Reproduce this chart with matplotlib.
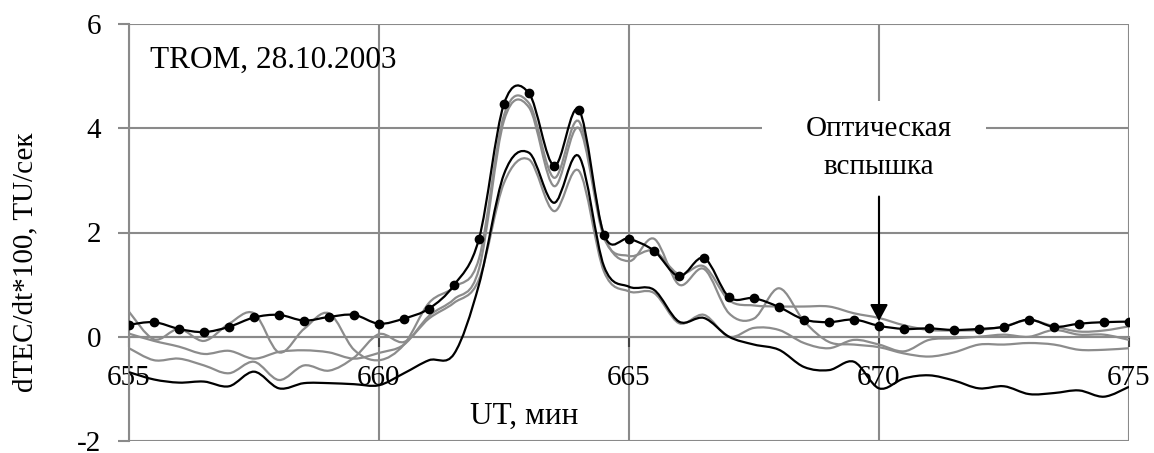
import numpy as np
import matplotlib.pyplot as plt
from matplotlib.path import Path
from matplotlib.patches import PathPatch, Rectangle

plt.rcParams['font.family'] = ['Liberation Serif', 'DejaVu Serif']
plt.rcParams['axes.unicode_minus'] = False

# UT, minutes (30 s step)
ut = np.linspace(655, 675, 41)

# dTEC/dt*100 for the station with markers
trom_main = [0.23, 0.28, 0.15, 0.09, 0.19, 0.37, 0.42, 0.31, 0.38, 0.42,
             0.25, 0.35, 0.54, 0.99, 1.88, 4.47, 4.67, 3.28, 4.35, 1.96,
             1.88, 1.65, 1.16, 1.51, 0.76, 0.74, 0.57, 0.33, 0.28, 0.33,
             0.21, 0.15, 0.16, 0.13, 0.15, 0.19, 0.33, 0.19, 0.25, 0.28,
             0.29]

# second black curve (no markers)
trom_low = [-0.68, -0.82, -0.88, -0.86, -0.95, -0.67, -0.99, -0.89, -0.89, -0.91,
            -0.93, -0.70, -0.45, -0.33, 1.00, 3.12, 3.53, 2.57, 3.46, 1.35,
            0.96, 0.90, 0.29, 0.36, 0.00, -0.15, -0.25, -0.58, -0.64, -0.48,
            -0.99, -0.80, -0.74, -0.84, -0.99, -0.95, -1.10, -1.08, -1.03, -1.15,
            -0.96]

# gray curves
gray_1 = [0.48, -0.05, 0.15, -0.08, 0.25, 0.45, -0.30, 0.15, 0.45, -0.25,
          -0.45, -0.15, 0.65, 0.95, 1.50, 4.25, 4.48, 3.05, 4.13, 1.95,
          1.45, 1.88, 1.00, 1.30, 0.45, 0.35, 0.93, 0.30, -0.10, -0.15,
          -0.20, -0.32, -0.38, -0.30, -0.15, -0.15, -0.12, -0.15, -0.25, -0.25,
          -0.22]
gray_2 = [0.06, -0.08, -0.19, -0.33, -0.27, -0.42, -0.29, -0.26, -0.30, -0.42,
          -0.31, -0.15, 0.40, 0.72, 1.30, 4.15, 4.40, 2.89, 4.00, 1.90,
          1.55, 1.65, 1.20, 1.35, 0.70, 0.60, 0.58, 0.58, 0.58, 0.45,
          0.36, 0.22, 0.13, 0.12, 0.13, 0.20, 0.32, 0.20, 0.10, 0.12,
          0.20]
gray_3 = [-0.22, -0.45, -0.42, -0.55, -0.70, -0.48, -0.83, -0.55, -0.65, -0.40,
          0.05, -0.10, 0.35, 0.65, 1.10, 2.95, 3.40, 2.41, 3.18, 1.25,
          0.87, 0.84, 0.26, 0.42, 0.00, 0.17, 0.13, -0.12, -0.22, -0.06,
          -0.15, -0.28, -0.06, -0.03, 0.00, 0.04, 0.00, 0.13, 0.04, 0.04,
          -0.06]

x_ticks = [655, 660, 665, 670, 675]
y_ticks = [-2, 0, 2, 4, 6]


def smooth_path(x, y):
    # Bezier spline through the points (same idea as "smoothed line" in Excel)
    n = len(x)
    verts = [(x[0], y[0])]
    codes = [Path.MOVETO]
    for i in range(n - 1):
        a = i - 1 if i > 0 else i
        d = i + 2 if i + 2 < n else i + 1
        c1 = (x[i] + (x[i + 1] - x[a]) / 6, y[i] + (y[i + 1] - y[a]) / 6)
        c2 = (x[i + 1] - (x[d] - x[i]) / 6, y[i + 1] - (y[d] - y[i]) / 6)
        verts += [c1, c2, (x[i + 1], y[i + 1])]
        codes += [Path.CURVE4] * 3
    return Path(verts, codes)


fig = plt.figure(figsize=(11.54, 4.53), dpi=100)
ax = fig.add_axes([129 / 1154, 12 / 453, 1000 / 1154, 417 / 453])

grid_c = '#8a8a8a'
ax.set_xlim(655, 675)
ax.set_ylim(-2, 6)
ax.set_xticks(x_ticks)
ax.set_yticks(y_ticks)
ax.grid(True, color=grid_c, lw=1.5)
ax.set_axisbelow(True)

for s in ['top', 'right']:
    ax.spines[s].set_visible(False)
ax.spines['left'].set_color(grid_c)
ax.spines['left'].set_linewidth(1.5)
ax.spines['bottom'].set_position(('data', 0))
ax.spines['bottom'].set_color(grid_c)
ax.spines['bottom'].set_linewidth(1.5)

ax.tick_params(axis='y', direction='out', length=8, width=1.5, color=grid_c,
               labelsize=21, pad=12)
ax.tick_params(axis='x', direction='out', length=7, width=1.5, color='#444444',
               labelsize=21, pad=13)
for lab in ax.get_yticklabels():
    lab.set_verticalalignment('center_baseline')

for g in (gray_1, gray_2, gray_3):
    ax.add_patch(PathPatch(smooth_path(ut, g), fill=False, ec='#8c8c8c', lw=1.6,
                           zorder=3))
ax.add_patch(PathPatch(smooth_path(ut, trom_low), fill=False, ec='black', lw=1.6,
                       zorder=4))
ax.add_patch(PathPatch(smooth_path(ut, trom_main), fill=False, ec='black', lw=1.6,
                       zorder=5))
ax.plot(ut, trom_main, 'o', color='black', ms=6, zorder=6)

ax.text(655.42, 5.31, 'TROM, 28.10.2003', fontsize=22.5, va='center', ha='left')
ax.text(662.9, -1.52, 'UT, мин', fontsize=22.5, va='center', ha='center')

# white box under the label hides the grid
ax.add_patch(Rectangle((667.66, 2.69), 4.48, 1.83, fc='white', ec='none', zorder=2))
ax.text(670, 3.98, 'Оптическая', fontsize=21, ha='center', va='center', zorder=7)
ax.text(670, 3.26, 'вспышка', fontsize=21, ha='center', va='center', zorder=7)
ax.annotate('', xy=(670, 0.3), xytext=(670, 2.69),
            arrowprops=dict(arrowstyle='-|>,head_length=0.5,head_width=0.27',
                            color='black', lw=1.5, shrinkA=0, shrinkB=0,
                            mutation_scale=20), zorder=7)

fig.text(25 / 1154, 1 - 262 / 453, 'dTEC/dt*100, TU/сек', rotation=90,
         fontsize=21, ha='center', va='center')

fig.savefig('out.png', dpi=100)
